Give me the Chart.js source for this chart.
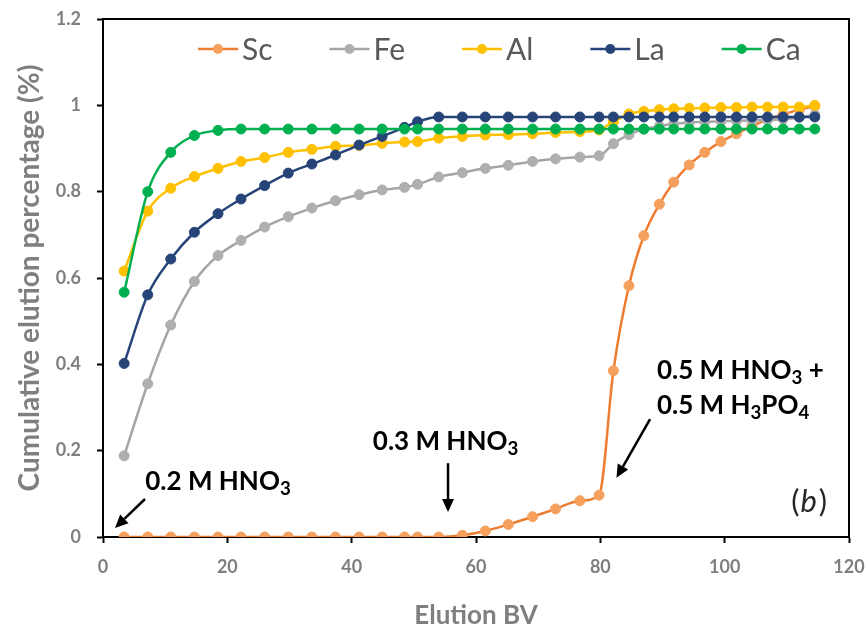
<!DOCTYPE html>
<html><head><meta charset="utf-8">
<script src="https://cdn.jsdelivr.net/npm/chart.js@4.4.1/dist/chart.umd.min.js"></script>
<style>html,body{margin:0;padding:0;background:#fff;}canvas{display:block;}</style>
</head><body>
<canvas id="c" width="868" height="631"></canvas>
<script>
// ---- data ----
const bv = [3.4, 7.2, 10.9, 14.7, 18.5, 22.2, 26.0, 29.8, 33.6, 37.4, 41.2, 44.9, 48.5, 50.6, 54.0, 57.8, 61.5, 65.2, 69.1, 72.8, 76.7, 79.8, 82.1, 84.6, 87.0, 89.5, 91.8, 94.3, 96.8, 99.4, 101.9, 104.4, 106.9, 109.4, 112.0, 114.5];
const sc = [0, 0, 0, 0, 0, 0, 0, 0, 0, 0, 0, 0, 0, 0, 0, 0.004, 0.014, 0.029, 0.047, 0.065, 0.084, 0.097, 0.385, 0.582, 0.698, 0.771, 0.822, 0.862, 0.891, 0.916, 0.934, 0.952, 0.967, 0.979, 0.990, 0.998];
const fe = [0.188, 0.355, 0.491, 0.592, 0.652, 0.687, 0.718, 0.742, 0.762, 0.779, 0.793, 0.804, 0.810, 0.817, 0.834, 0.844, 0.854, 0.861, 0.870, 0.876, 0.880, 0.883, 0.911, 0.932, 0.945, 0.952, 0.957, 0.960, 0.962, 0.963, 0.964, 0.965, 0.966, 0.968, 0.972, 0.978];
const al = [0.616, 0.755, 0.808, 0.835, 0.854, 0.870, 0.879, 0.891, 0.898, 0.905, 0.907, 0.912, 0.915, 0.916, 0.924, 0.928, 0.931, 0.932, 0.934, 0.937, 0.939, 0.943, 0.962, 0.980, 0.986, 0.990, 0.992, 0.993, 0.994, 0.995, 0.995, 0.996, 0.996, 0.996, 0.996, 1.000];
const la = [0.402, 0.561, 0.644, 0.706, 0.749, 0.783, 0.814, 0.843, 0.864, 0.885, 0.908, 0.928, 0.949, 0.962, 0.973, 0.973, 0.973, 0.973, 0.973, 0.973, 0.973, 0.973, 0.973, 0.973, 0.973, 0.973, 0.973, 0.973, 0.973, 0.973, 0.973, 0.973, 0.973, 0.973, 0.973, 0.973];
const ca = [0.567, 0.800, 0.891, 0.930, 0.942, 0.945, 0.945, 0.945, 0.945, 0.945, 0.945, 0.945, 0.945, 0.945, 0.945, 0.945, 0.945, 0.945, 0.945, 0.945, 0.945, 0.945, 0.945, 0.945, 0.945, 0.945, 0.945, 0.945, 0.945, 0.945, 0.945, 0.945, 0.945, 0.945, 0.945, 0.945];
const seriesNames = ['Sc', 'Fe', 'Al', 'La', 'Ca'];
const xTickLabels = ['0', '20', '40', '60', '80', '100', '120'];
const yTickLabels = ['0', '0.2', '0.4', '0.6', '0.8', '1', '1.2'];
const xTitle = 'Elution BV';
const yTitle = 'Cumulative elution percentage (%)';
const noteTexts = [
  [['0.2 M HNO', 0], ['3', 1]],
  [['0.3 M HNO', 0], ['3', 1]],
  [['0.5 M HNO', 0], ['3', 1], [' +', 0]],
  [['0.5 M H', 0], ['3', 1], ['PO', 0], ['4', 1]]
];
const panelLabel = 'b';

// ---- styling ----
const FONT = 'Lato';
const lineColors = ['#ED7D31', '#A5A5A5', '#FFC000', '#264478', '#00B050'];
const pointColors = ['#F5A05C', '#AFAFAF', '#FFC000', '#264478', '#00B050'];
const drawOrder = [5, 4, 3, 2, 1];
const values = [sc, fe, al, la, ca];

const datasets = seriesNames.map((name, i) => ({
  label: name,
  data: bv.map((x, j) => ({x: x, y: values[i][j]})),
  borderColor: lineColors[i],
  backgroundColor: pointColors[i],
  pointBackgroundColor: pointColors[i],
  pointBorderColor: pointColors[i],
  order: drawOrder[i]
}));

const framePlugin = {
  id: 'frame',
  afterDraw(chart) {
    const {ctx, chartArea: a} = chart;
    ctx.save();
    ctx.strokeStyle = '#000';
    ctx.lineWidth = 2;
    ctx.beginPath();
    ctx.moveTo(a.left - 1, a.top);
    ctx.lineTo(a.right, a.top);
    ctx.lineTo(a.right, a.bottom + 1);
    ctx.stroke();
    ctx.restore();
  }
};

const legendPlugin = {
  id: 'excelLegend',
  afterDraw(chart) {
    const {ctx, chartArea: a} = chart;
    ctx.save();
    ctx.font = '30px ' + FONT;
    ctx.textBaseline = 'middle';
    let x = a.left + 95;
    const y = a.top + 30;
    chart.data.datasets.forEach((ds, i) => {
      ctx.strokeStyle = ds.borderColor;
      ctx.lineWidth = 2.5;
      ctx.beginPath(); ctx.moveTo(x, y); ctx.lineTo(x + 40, y); ctx.stroke();
      ctx.fillStyle = ds.pointBackgroundColor;
      ctx.beginPath(); ctx.arc(x + 20, y, 5, 0, Math.PI * 2); ctx.fill();
      ctx.fillStyle = '#595959';
      ctx.fillText(ds.label, x + 44, y + 1);
      x += 44 + ctx.measureText(ds.label).width + 57;
    });
    ctx.restore();
  }
};

function arrow(ctx, x1, y1, x2, y2) {
  const ang = Math.atan2(y2 - y1, x2 - x1);
  const hl = 13, hw = 6;
  const bx = x2 - hl * Math.cos(ang), by = y2 - hl * Math.sin(ang);
  ctx.beginPath(); ctx.moveTo(x1, y1); ctx.lineTo(bx, by); ctx.stroke();
  ctx.beginPath();
  ctx.moveTo(x2, y2);
  ctx.lineTo(bx + hw * Math.sin(ang), by - hw * Math.cos(ang));
  ctx.lineTo(bx - hw * Math.sin(ang), by + hw * Math.cos(ang));
  ctx.closePath(); ctx.fill();
}

function richText(ctx, parts, x, y, size) {
  parts.forEach(([t, sub]) => {
    const s = sub ? size * 0.72 : size;
    ctx.font = 'bold ' + s + 'px ' + FONT;
    ctx.fillText(t, x, y + (sub ? size * 0.2 : 0));
    x += ctx.measureText(t).width;
  });
}

const notesPlugin = {
  id: 'notes',
  afterDraw(chart) {
    const {ctx} = chart;
    const X = v => chart.scales.x.getPixelForValue(v);
    const Y = v => chart.scales.y.getPixelForValue(v);
    ctx.save();
    ctx.fillStyle = '#000';
    ctx.strokeStyle = '#000';
    ctx.lineWidth = 2.5;
    ctx.textBaseline = 'alphabetic';
    const size = 26;
    richText(ctx, noteTexts[0], X(6.8), Y(0.109), size);
    richText(ctx, noteTexts[1], X(43.4), Y(0.2015), size);
    richText(ctx, noteTexts[2], X(89.1), Y(0.367), size);
    richText(ctx, noteTexts[3], X(89.1), Y(0.286), size);
    arrow(ctx, X(6.76), Y(0.088), X(1.93), Y(0.021));
    arrow(ctx, X(55.5), Y(0.171), X(55.5), Y(0.058));
    arrow(ctx, X(88.0), Y(0.273), X(82.6), Y(0.137));
    // panel label (b)
    ctx.fillStyle = '#262626';
    let px = X(110.7); const py = Y(0.059);
    ctx.font = '31px ' + FONT;
    ctx.fillText('(', px, py); px += ctx.measureText('(').width + 1;
    ctx.font = 'italic 31px ' + FONT;
    ctx.fillText(panelLabel, px, py); px += ctx.measureText(panelLabel).width + 2;
    ctx.font = '31px ' + FONT;
    ctx.fillText(')', px, py);
    ctx.restore();
  }
};

const tickFont = {family: FONT, weight: 'bold', size: 18};

new Chart(document.getElementById('c'), {
  type: 'line',
  data: {datasets: datasets},
  options: {
    responsive: false,
    animation: false,
    devicePixelRatio: 1,
    layout: {padding: {left: 0, top: 19, right: 19, bottom: 0}},
    plugins: {legend: {display: false}, tooltip: {enabled: false}},
    elements: {
      line: {borderWidth: 2.5, cubicInterpolationMode: 'monotone', fill: false},
      point: {radius: 5, borderWidth: 1, hoverRadius: 5}
    },
    scales: {
      x: {
        type: 'linear', min: 0, max: 120,
        afterFit(s) { s.height = 94; s.paddingLeft = 0; s.paddingRight = 0; },
        ticks: {stepSize: 20, callback: (v, i) => xTickLabels[i], font: tickFont, color: '#7F7F7F', padding: 13, maxRotation: 0, autoSkip: false},
        grid: {drawOnChartArea: false, drawTicks: true, tickLength: 6, tickColor: '#000', tickWidth: 2},
        border: {color: '#000', width: 2},
        title: {display: true, text: xTitle, font: {family: FONT, weight: 'bold', size: 26}, color: '#7F7F7F', padding: {top: 0, bottom: 0}}
      },
      y: {
        type: 'linear', min: 0, max: 1.2,
        afterFit(s) { s.width = 103; s.paddingTop = 0; s.paddingBottom = 0; },
        ticks: {stepSize: 0.2, callback: (v, i) => yTickLabels[i], font: tickFont, color: '#7F7F7F', padding: 16, autoSkip: false},
        grid: {drawOnChartArea: false, drawTicks: true, tickLength: 6, tickColor: '#000', tickWidth: 2},
        border: {color: '#000', width: 2},
        title: {display: true, text: yTitle, font: {family: FONT, weight: 'bold', size: 28}, color: '#7F7F7F', padding: {top: 13, bottom: 0}}
      }
    }
  },
  plugins: [framePlugin, legendPlugin, notesPlugin]
});
</script>
</body></html>
